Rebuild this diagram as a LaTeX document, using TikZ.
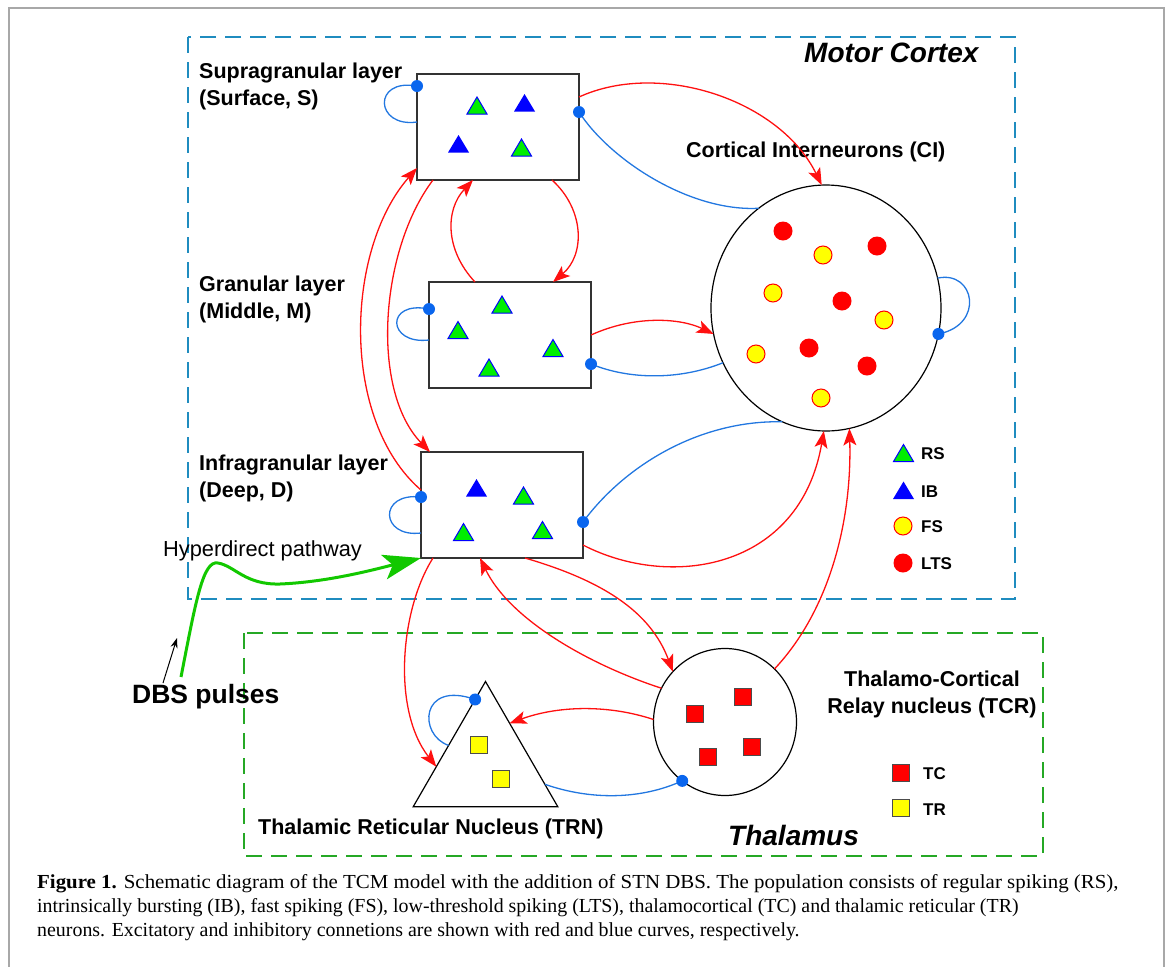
\documentclass[tikz,border=0pt]{standalone}
\usepackage{fontspec}
\setmainfont{Liberation Serif}
\newfontfamily\arialfont{Liberation Sans}
\usetikzlibrary{shapes.geometric,arrows.meta,calc}
\definecolor{exc}{HTML}{FF1010}
\definecolor{inh}{HTML}{2277E0}
\definecolor{dotblue}{HTML}{0A66EE}
\definecolor{ctxdash}{HTML}{1F8CBF}
\definecolor{thdash}{HTML}{25A825}
\definecolor{hyper}{HTML}{12C800}
\definecolor{rsgreen}{HTML}{00EE00}
\definecolor{ibblue}{HTML}{0000FF}
\definecolor{ltsred}{HTML}{FF0000}
\definecolor{fsyellow}{HTML}{FFFF00}
\definecolor{framegrey}{HTML}{A8A8A8}
\tikzset{
  layerbox/.style={draw=black!80, line width=1.5pt, fill=white, minimum width=162pt, minimum height=106pt, inner sep=0pt, outer sep=0pt},
  popcircle/.style={draw=black, line width=1.2pt, ellipse, inner sep=0pt, outer sep=0pt},
  excit/.style={draw=exc, line width=1.3pt, -{Stealth[length=17pt,width=13pt,inset=4pt]}},
  inhib/.style={draw=inh, line width=1.3pt},
  inhdot/.style={fill=dotblue},
  lbl/.style={font=\arialfont\bfseries\fontsize{21.5}{27}\selectfont, inner sep=0pt, align=left},
  bigital/.style={font=\arialfont\bfseries\itshape\fontsize{28}{32}\selectfont, inner sep=0pt},
  legtext/.style={font=\arialfont\bfseries\fontsize{17}{20}\selectfont, inner sep=0pt, anchor=west},
  captext/.style={font=\fontsize{19.9}{24}\selectfont, inner sep=0pt, anchor=west},
  rstri/.pic={\filldraw[fill=rsgreen, draw=ibblue, line width=1pt] (-10,8.5) -- (10,8.5) -- (0,-8.5) -- cycle;},
  ibtri/.pic={\fill[ibblue] (-10.5,8.5) -- (10.5,8.5) -- (0,-9) -- cycle;},
  fsdot/.pic={\filldraw[fill=fsyellow, draw=ltsred, line width=1pt] (0,0) circle (9pt);},
  ltsdot/.pic={\fill[ltsred] (0,0) circle (9.5pt);},
  tcsq/.pic={\filldraw[fill=ltsred, draw=black!70, line width=1pt] (-8.5,-8.5) rectangle (8.5,8.5);},
  trsq/.pic={\filldraw[fill=fsyellow, draw=black!70, line width=1pt] (-8.5,-8.5) rectangle (8.5,8.5);},
}
\begin{document}
\begin{tikzpicture}[x=1pt,y=-1pt]
\useasboundingbox (0,0) rectangle (1171,967);
% outer frame
\draw[framegrey, line width=1.5pt] (9,967) -- (9,8) -- (1164,8) -- (1164,967);
% region boxes
\draw[ctxdash, line width=1.8pt, dash pattern=on 16pt off 9pt] (188,37) rectangle (1015,599);
\draw[thdash, line width=1.8pt, dash pattern=on 16pt off 9pt] (244,633) rectangle (1043,856);
\node[bigital, anchor=west] (mctx) at (804,53) {Motor Cortex};
\node[bigital, anchor=west] (thal) at (728,835) {Thalamus};

% populations
\node[layerbox] (S) at (498,127) {};
\node[layerbox] (M) at (510,335) {};
\node[layerbox] (D) at (502,505) {};
\node[popcircle, minimum width=230pt, minimum height=246pt] (CI) at (826,308) {};
\node[popcircle, minimum width=143pt, minimum height=147pt] (TC) at (725,722) {};
\node[regular polygon, regular polygon sides=3, minimum size=167pt, draw=black, line width=1.2pt, inner sep=0pt, outer sep=0pt] (TRN) at (485.5,765) {};

% neuron markers
\pic at (477,105.5) {rstri};
\pic at (524.5,103) {ibtri};
\pic at (458.5,144) {ibtri};
\pic at (521.5,147.5) {rstri};
\pic at (502,304.5) {rstri};
\pic at (458,330) {rstri};
\pic at (553,348) {rstri};
\pic at (489,367.5) {rstri};
\pic at (476.5,488) {ibtri};
\pic at (523.5,495.5) {rstri};
\pic at (463.5,532) {rstri};
\pic at (542.5,530) {rstri};
\foreach \p in {(783,231),(877,246),(842,301),(809,348),(867,366)} {\pic at \p {ltsdot};}
\foreach \p in {(823,255),(773,293),(884,320),(756,354),(821,398)} {\pic at \p {fsdot};}
\foreach \p in {(695,714),(743,697),(708,757),(752,747)} {\pic at \p {tcsq};}
\foreach \p in {(479,745),(501,779)} {\pic at \p {trsq};}

% labels
\node[lbl, anchor=west] (supl) at (199,86.5) {Supragranular layer\\ (Surface, S)};
\node[lbl, anchor=west] (granl) at (199,299) {Granular layer\\(Middle, M)};
\node[lbl, anchor=west] (infl) at (199,478.5) {Infragranular layer\\(Deep, D)};
\node[lbl, anchor=west] (cil) at (686,152) {Cortical Interneurons (CI)};
\node[lbl, align=center] (tcrl) at (932,694.5) {Thalamo-Cortical\\Relay nucleus (TCR)};
\node[lbl, anchor=west] (trnl) at (258,829) {Thalamic Reticular Nucleus (TRN)};
\node[font=\arialfont\fontsize{21.8}{25}\selectfont, inner sep=0pt, anchor=west] (hyl) at (163,551) {Hyperdirect pathway};
\node[font=\arialfont\bfseries\fontsize{26.5}{30}\selectfont, inner sep=0pt, anchor=west] (dbs) at (132,697) {DBS pulses};

% legend
\pic at (903.5,453) {rstri};
\node[legtext] (lrs) at (921,454) {RS};
\pic at (903.5,490.5) {ibtri};
\node[legtext] (lib) at (921,492) {IB};
\pic at (903,526) {fsdot};
\node[legtext] (lfs) at (921,527) {FS};
\pic at (903,563) {ltsdot};
\node[legtext] (llts) at (921,564) {LTS};
\pic at (901,773) {tcsq};
\node[legtext] (ltc) at (923,774) {TC};
\pic at (901,808) {trsq};
\node[legtext] (ltr) at (923,810) {TR};

% cortical connections
\draw[excit] ([yshift=30pt]S.east) .. controls (660,60) and (780,100) .. (CI.92);
\draw[inhib] (CI.124) .. controls (690,212) and (610,160) .. ([yshift=15pt]S.east);
\draw[excit] (M.east) .. controls (635,315) and (680,318) .. (CI.193);
\draw[inhib] (CI.208) .. controls (680,380) and (630,380) .. ([yshift=-29pt]M.east);
\draw[excit] ([yshift=-40pt]D.east) .. controls (670,590) and (800,570) .. (CI.269);
\draw[inhib] (CI.249.5) .. controls (700,420) and (625,465) .. ([yshift=-17pt]D.east);
\draw[excit] (TC.47.7) .. controls (830,610) and (852,520) .. (CI.281);
\draw[inhib] (CI.15.7) .. controls (975,270) and (985,325) .. (CI.-13);
\draw[excit] ([xshift=135pt]S.south west) .. controls (585,210) and (585,255) .. ([xshift=124pt]M.north west);
\draw[excit] ([xshift=46pt]M.north west) .. controls (445,250) and (445,210) .. ([xshift=56pt]S.south west);
\draw[excit] ([xshift=16pt]S.south west) .. controls (380,250) and (370,390) .. ([xshift=9pt]D.north west);
\draw[excit] ([yshift=15pt]D.west) .. controls (340,420) and (345,250) .. ([yshift=12pt]S.south west);
% self loops
\draw[inhib] ([yshift=5pt]S.west) .. controls (375,128) and (372,78) .. ([yshift=41pt]S.west);
\draw[inhib] ([yshift=-5pt]M.west) .. controls (387,345) and (385,300) .. ([yshift=26pt]M.west);
\draw[inhib] ([yshift=-28pt]D.west) .. controls (380,538) and (378,492) .. ([yshift=8pt]D.west);
\draw[inhib] (TRN.152.5) .. controls (418,735) and (420,680) .. (TRN.99);
% thalamic connections
\draw[excit] ([xshift=12pt]D.south west) .. controls (400,610) and (392,710) .. (TRN.182);
\draw[excit] (TC.152.4) .. controls (590,665) and (510,620) .. ([xshift=59pt]D.south west);
\draw[excit] ([xshift=104pt]D.south west) .. controls (600,580) and (650,610) .. (TC.136.7);
\draw[excit] (TC.178) .. controls (610,705) and (560,705) .. (TRN.60);
\draw[inhib] (TRN.-18) .. controls (590,800) and (640,800) .. (TC.234);
% inhibitory dots
\foreach \a in {([yshift=41pt]S.west),([yshift=15pt]S.east),([yshift=26pt]M.west),([yshift=-29pt]M.east),([yshift=8pt]D.west),([yshift=-17pt]D.east),(CI.-13),(TRN.99),(TC.234)} {\fill[inhdot] \a circle (6pt);}

% hyperdirect pathway
\coordinate (dbsstart) at (181,677);
\draw[hyper, line width=3pt, -{Stealth[length=38pt,width=25pt,inset=9pt]}] (dbsstart) .. controls (196,600) and (203,560) .. (218,563) .. controls (235,566) and (245,585) .. (280,584) .. controls (330,582) and (380,568) .. (D.south west);
\coordinate (dbsarrA) at (163,683);
\coordinate (dbsarrB) at (177,638);
\draw[black, line width=1pt, -{Stealth[length=10pt,width=7pt]}] (dbsarrA) -- (dbsarrB);

% caption
\node[captext] (cap1) at (37,884) {\scalebox{1.05}[1]{\textbf{Figure 1.} Schematic diagram of the TCM model with the addition of STN DBS. The population consists of regular spiking (RS),}};
\node[captext] (cap2) at (37,908) {intrinsically bursting (IB), fast spiking (FS), low-threshold spiking (LTS), thalamocortical (TC) and thalamic reticular (TR)};
\node[captext] (cap3) at (37,932) {neurons. Excitatory and inhibitory connetions are shown with red and blue curves, respectively.};
\end{tikzpicture}
\end{document}
